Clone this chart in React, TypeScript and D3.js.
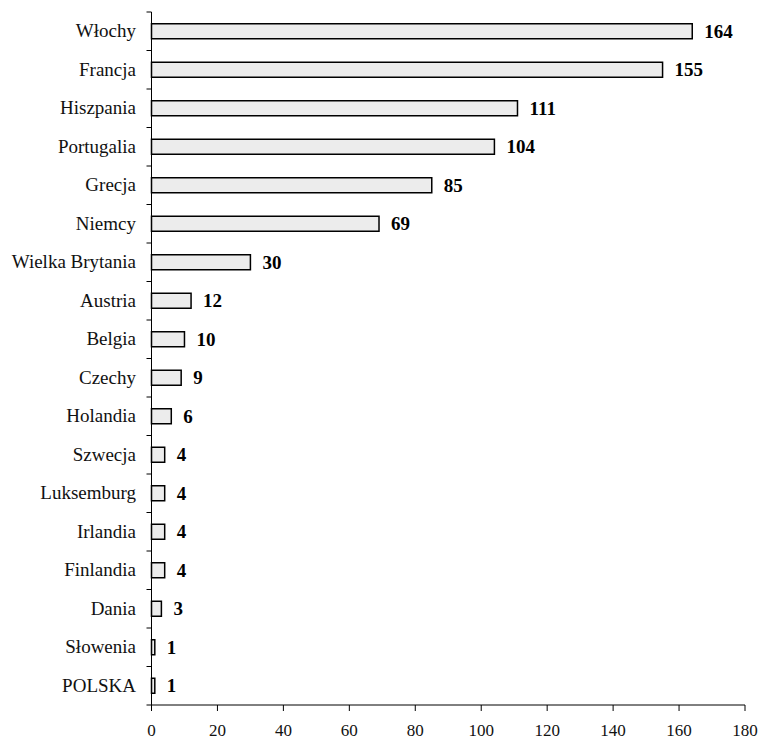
import { useEffect, useRef } from 'react'
import * as d3 from 'd3'

const countries = [
  'Włochy', 'Francja', 'Hiszpania', 'Portugalia', 'Grecja', 'Niemcy',
  'Wielka Brytania', 'Austria', 'Belgia', 'Czechy', 'Holandia', 'Szwecja',
  'Luksemburg', 'Irlandia', 'Finlandia', 'Dania', 'Słowenia', 'POLSKA',
]
const counts = [164, 155, 111, 104, 85, 69, 30, 12, 10, 9, 6, 4, 4, 4, 4, 3, 1, 1]
const xTicks = [0, 20, 40, 60, 80, 100, 120, 140, 160, 180]

export default function App() {
  const ref = useRef<SVGSVGElement>(null)

  useEffect(() => {
    const width = 760, height = 741
    const left = 151.5, right = 745, top = 12, bottom = 705
    const font = "'Liberation Serif', 'Times New Roman', Times, serif"

    const svg = d3.select(ref.current)
    svg.selectAll('*').remove()

    const x = d3.scaleLinear().domain([0, 180]).range([left, right])
    const y = d3.scaleBand<string>().domain(countries).range([top, bottom])
    const barH = 15

    const data = countries.map((c, i) => ({ c, v: counts[i] }))

    svg.append('rect').attr('width', width).attr('height', height).attr('fill', '#fff')

    svg.selectAll('rect.bar')
      .data(data)
      .enter()
      .append('rect')
      .attr('class', 'bar')
      .attr('x', x(0))
      .attr('y', d => y(d.c)! + y.bandwidth() / 2 - barH / 2)
      .attr('width', d => x(d.v) - x(0))
      .attr('height', barH)
      .attr('fill', '#ececec')
      .attr('stroke', '#000')
      .attr('stroke-width', 1.5)

    svg.selectAll('text.val')
      .data(data)
      .enter()
      .append('text')
      .attr('class', 'val')
      .attr('x', d => x(d.v) + 12)
      .attr('y', d => y(d.c)! + y.bandwidth() / 2 + 6.5)
      .style('font-family', font)
      .style('font-size', '19px')
      .style('font-weight', 'bold')
      .attr('fill', '#000')
      .text(d => d.v)

    // category axis
    const ya = svg.append('g').attr('stroke', '#000').attr('stroke-width', 1)
    ya.append('line').attr('x1', left).attr('x2', left).attr('y1', top).attr('y2', bottom)
    const bounds = countries.map(c => y(c)!)
    ya.selectAll('line.t')
      .data(bounds)
      .enter()
      .append('line')
      .attr('class', 't')
      .attr('x1', left - 5)
      .attr('x2', left)
      .attr('y1', d => d)
      .attr('y2', d => d)

    svg.selectAll('text.cat')
      .data(data)
      .enter()
      .append('text')
      .attr('class', 'cat')
      .attr('x', 136)
      .attr('y', d => y(d.c)! + y.bandwidth() / 2 + 6)
      .attr('text-anchor', 'end')
      .style('font-family', font)
      .style('font-size', '19px')
      .attr('fill', '#111')
      .text(d => d.c)

    // value axis
    const xa = svg.append('g').attr('stroke', '#000').attr('stroke-width', 1)
    xa.append('line').attr('x1', left - 5).attr('x2', right).attr('y1', bottom).attr('y2', bottom)
    xa.selectAll('line.t')
      .data(xTicks)
      .enter()
      .append('line')
      .attr('class', 't')
      .attr('x1', d => x(d))
      .attr('x2', d => x(d))
      .attr('y1', bottom)
      .attr('y2', bottom + 6)

    svg.selectAll('text.tick')
      .data(xTicks)
      .enter()
      .append('text')
      .attr('class', 'tick')
      .attr('x', d => x(d))
      .attr('y', 736)
      .attr('text-anchor', 'middle')
      .style('font-family', font)
      .style('font-size', '17px')
      .attr('fill', '#111')
      .text(d => d)
  }, [])

  return (
    <svg ref={ref} width={760} height={741} style={{ display: 'block', position: 'absolute', left: 0, top: 0 }} />
  )
}
